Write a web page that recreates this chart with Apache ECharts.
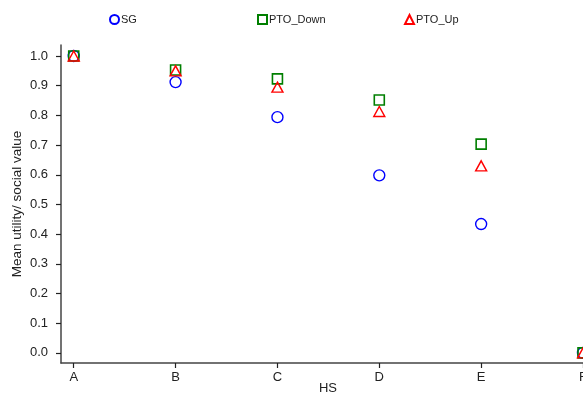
<!DOCTYPE html>
<html>
<head>
<meta charset="utf-8">
<script src="https://cdn.jsdelivr.net/npm/echarts@6/dist/echarts.min.js"></script>
<style>
  html, body { margin: 0; padding: 0; background: #fff; }
  #container { width: 583px; height: 396px; }
</style>
</head>
<body>
<div id="container"></div>
<script>
"use strict";

// HS levels along the x axis
const categories = ['A', 'B', 'C', 'D', 'E', 'F'];
const yTicks = [0, 0.1, 0.2, 0.3, 0.4, 0.5, 0.6, 0.7, 0.8, 0.9, 1.0];

const sg = [1.0, 0.912, 0.794, 0.598, 0.434, 0.0];
const ptoDown = [1.0, 0.953, 0.923, 0.852, 0.703, 0.0];
const ptoUp = [1.0, 0.95, 0.895, 0.813, 0.63, 0.0];

const FONT = 'Liberation Sans, Arial, sans-serif';

function pts(values) {
  return values.map((v, i) => [i, v]);
}

let myChart = echarts.init(document.getElementById('container'));

function legendAt(left, name, icon) {
  return {
    left: left, top: 9,
    itemWidth: 9, itemHeight: 9, itemGap: 2,
    textStyle: { fontSize: 11, color: '#222', fontFamily: FONT, padding: [0, 0, 0, -3] },
    data: [{ name: name, icon: icon }],
  };
}

let option = {
  animation: false,
  backgroundColor: '#fff',
  textStyle: { fontFamily: FONT },
  legend: [
    legendAt(104, 'SG', 'circle'),
    legendAt(252, 'PTO_Down', 'rect'),
    legendAt(399, 'PTO_Up', 'triangle'),
  ],
  grid: {
    left: 61,
    right: 0,
    top: 45,
    bottom: 33,
    outerBoundsMode: 'none',
    containLabel: false,
  },
  xAxis: {
    type: 'value',
    min: -0.125,
    max: 5,
    name: 'HS',
    nameLocation: 'middle',
    nameGap: 19,
    nameMoveOverlap: false,
    nameTextStyle: { fontSize: 13, color: '#222', padding: [0, 0, 0, 12] },
    axisLine: { show: true, onZero: false, lineStyle: { color: '#444', width: 1.5 } },
    axisTick: {
      show: true,
      customValues: [0, 1, 2, 3, 4, 5],
      length: 5,
      inside: false,
      lineStyle: { color: '#222', width: 1.2 },
    },
    axisLabel: {
      customValues: [0, 1, 2, 3, 4, 5],
      fontSize: 13,
      color: '#222',
      margin: 8,
      formatter: function (v) {
        return categories[Math.round(v)];
      },
    },
    splitLine: { show: false },
  },
  yAxis: {
    type: 'value',
    min: -0.034,
    max: 1.037,
    name: 'Mean utility/ social value',
    nameLocation: 'middle',
    nameGap: 37,
    nameMoveOverlap: false,
    nameTextStyle: { fontSize: 13.5, color: '#222' },
    axisLine: { show: true, onZero: false, lineStyle: { color: '#444', width: 1.5 } },
    axisTick: {
      show: true,
      customValues: yTicks,
      length: 5,
      lineStyle: { color: '#222', width: 1.2 },
    },
    axisLabel: {
      customValues: yTicks,
      fontSize: 13,
      color: '#222',
      margin: 13,
      formatter: function (v) {
        return v.toFixed(1);
      },
    },
    splitLine: { show: false },
  },
  series: [
    {
      name: 'SG',
      type: 'scatter',
      symbol: 'circle',
      symbolSize: 11,
      itemStyle: { color: 'rgba(0,0,0,0)', borderColor: '#0000ff', borderWidth: 1.4, opacity: 1 },
      data: pts(sg),
    },
    {
      name: 'PTO_Down',
      type: 'scatter',
      symbol: 'rect',
      symbolSize: 10,
      itemStyle: { color: 'rgba(0,0,0,0)', borderColor: '#007f00', borderWidth: 1.6, opacity: 1 },
      data: pts(ptoDown),
    },
    {
      name: 'PTO_Up',
      type: 'scatter',
      symbol: 'triangle',
      symbolSize: [11, 10],
      itemStyle: { color: 'rgba(0,0,0,0)', borderColor: '#ff0000', borderWidth: 1.4, opacity: 1 },
      data: pts(ptoUp),
    },
  ],
};

myChart.setOption(option);
</script>
</body>
</html>
